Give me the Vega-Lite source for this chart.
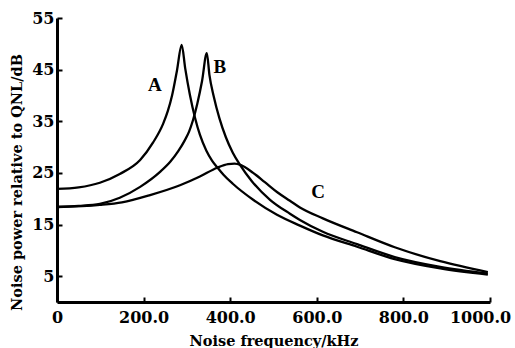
{
  "$schema": "https://vega.github.io/schema/vega-lite/v6.json",
  "width": 433,
  "height": 284,
  "autosize": {"type": "none"},
  "padding": {"left": 57, "top": 18, "right": 25, "bottom": 46},
  "background": "white",
  "config": {
    "view": {"stroke": null},
    "font": "DejaVu Serif",
    "axis": {
      "domainColor": "black", "domainWidth": 3,
      "tickColor": "black", "tickWidth": 2, "tickSize": -5,
      "labelColor": "black", "labelFont": "DejaVu Serif", "labelFontWeight": "bold", "labelFontSize": 16,
      "titleColor": "black", "titleFont": "DejaVu Serif", "titleFontWeight": "bold", "titleFontSize": 14.5,
      "grid": false
    }
  },
  "datasets": {
    "curves": [
      {"curve": "A", "f": 0, "p": 21.9},
      {"curve": "A", "f": 50, "p": 22.2},
      {"curve": "A", "f": 99, "p": 23.1},
      {"curve": "A", "f": 145, "p": 24.8},
      {"curve": "A", "f": 192, "p": 27.5},
      {"curve": "A", "f": 222, "p": 30.9},
      {"curve": "A", "f": 245, "p": 34.5},
      {"curve": "A", "f": 256, "p": 37.0},
      {"curve": "A", "f": 266, "p": 40.1},
      {"curve": "A", "f": 277, "p": 44.8},
      {"curve": "A", "f": 288, "p": 49.8},
      {"curve": "A", "f": 296, "p": 45.3},
      {"curve": "A", "f": 307, "p": 40.1},
      {"curve": "A", "f": 319, "p": 35.6},
      {"curve": "A", "f": 330, "p": 32.4},
      {"curve": "A", "f": 345, "p": 29.3},
      {"curve": "A", "f": 358, "p": 27.4},
      {"curve": "A", "f": 370, "p": 26.1},
      {"curve": "A", "f": 385, "p": 24.6},
      {"curve": "A", "f": 406, "p": 22.9},
      {"curve": "A", "f": 453, "p": 19.8},
      {"curve": "A", "f": 508, "p": 16.9},
      {"curve": "A", "f": 561, "p": 14.8},
      {"curve": "A", "f": 614, "p": 12.9},
      {"curve": "A", "f": 693, "p": 10.7},
      {"curve": "A", "f": 780, "p": 8.3},
      {"curve": "A", "f": 885, "p": 6.5},
      {"curve": "A", "f": 995, "p": 5.3},
      {"curve": "B", "f": 0, "p": 18.4},
      {"curve": "B", "f": 50, "p": 18.6},
      {"curve": "B", "f": 99, "p": 19.0},
      {"curve": "B", "f": 145, "p": 20.2},
      {"curve": "B", "f": 192, "p": 22.3},
      {"curve": "B", "f": 238, "p": 25.2},
      {"curve": "B", "f": 262, "p": 27.2},
      {"curve": "B", "f": 280, "p": 29.2},
      {"curve": "B", "f": 295, "p": 31.3},
      {"curve": "B", "f": 305, "p": 33.0},
      {"curve": "B", "f": 314, "p": 35.2},
      {"curve": "B", "f": 324, "p": 38.4},
      {"curve": "B", "f": 335, "p": 42.8},
      {"curve": "B", "f": 346, "p": 48.2},
      {"curve": "B", "f": 352, "p": 44.0},
      {"curve": "B", "f": 362, "p": 39.8},
      {"curve": "B", "f": 375, "p": 35.6},
      {"curve": "B", "f": 390, "p": 31.9},
      {"curve": "B", "f": 406, "p": 28.9},
      {"curve": "B", "f": 423, "p": 26.5},
      {"curve": "B", "f": 450, "p": 23.4},
      {"curve": "B", "f": 492, "p": 19.8},
      {"curve": "B", "f": 538, "p": 17.1},
      {"curve": "B", "f": 561, "p": 15.9},
      {"curve": "B", "f": 614, "p": 13.6},
      {"curve": "B", "f": 693, "p": 11.2},
      {"curve": "B", "f": 780, "p": 8.7},
      {"curve": "B", "f": 885, "p": 6.8},
      {"curve": "B", "f": 995, "p": 5.5},
      {"curve": "C", "f": 0, "p": 18.4},
      {"curve": "C", "f": 99, "p": 18.8},
      {"curve": "C", "f": 150, "p": 19.3},
      {"curve": "C", "f": 215, "p": 20.7},
      {"curve": "C", "f": 284, "p": 22.6},
      {"curve": "C", "f": 330, "p": 24.3},
      {"curve": "C", "f": 370, "p": 26.0},
      {"curve": "C", "f": 395, "p": 26.7},
      {"curve": "C", "f": 410, "p": 26.8},
      {"curve": "C", "f": 425, "p": 26.5},
      {"curve": "C", "f": 453, "p": 25.0},
      {"curve": "C", "f": 480, "p": 23.2},
      {"curve": "C", "f": 508, "p": 21.3},
      {"curve": "C", "f": 538, "p": 19.6},
      {"curve": "C", "f": 561, "p": 18.3},
      {"curve": "C", "f": 614, "p": 16.2},
      {"curve": "C", "f": 693, "p": 13.5},
      {"curve": "C", "f": 780, "p": 10.6},
      {"curve": "C", "f": 885, "p": 7.9},
      {"curve": "C", "f": 995, "p": 5.8}
    ],
    "labels": [
      {"label": "A", "f": 226, "p": 42.0},
      {"label": "B", "f": 376, "p": 45.5},
      {"label": "C", "f": 603, "p": 21.3}
    ]
  },
  "layer": [
    {
      "data": {"name": "curves"},
      "mark": {"type": "line", "color": "black", "strokeWidth": 2.3, "interpolate": "monotone"},
      "encoding": {
        "x": {
          "field": "f", "type": "quantitative",
          "scale": {"domain": [0, 1000], "nice": false, "zero": false},
          "axis": {
            "values": [0, 200, 400, 600, 800, 1000],
            "labelExpr": "datum.value == 0 ? '0' : format(datum.value, '.1f')",
            "labelPadding": 12,
            "labelFlush": false,
            "labelOffset": {"condition": {"test": "datum.value == 1000", "value": -10}, "value": 0},
            "title": "Noise frequency/kHz",
            "titleY": 43, "titleBaseline": "alphabetic"
          }
        },
        "y": {
          "field": "p", "type": "quantitative",
          "scale": {"domain": [0, 55], "nice": false},
          "axis": {
            "values": [5, 15, 25, 35, 45, 55],
            "labelPadding": 8,
            "title": "Noise power relative to QNL/dB",
            "titleAngle": -90, "titleX": -40, "titleY": 164,
            "titleBaseline": "middle", "titleAlign": "center"
          }
        },
        "detail": {"field": "curve"}
      }
    },
    {
      "data": {"name": "labels"},
      "mark": {"type": "text", "font": "Liberation Serif", "fontWeight": "bold", "fontSize": 19, "color": "black"},
      "encoding": {
        "x": {"field": "f", "type": "quantitative"},
        "y": {"field": "p", "type": "quantitative"},
        "text": {"field": "label"}
      }
    }
  ]
}
